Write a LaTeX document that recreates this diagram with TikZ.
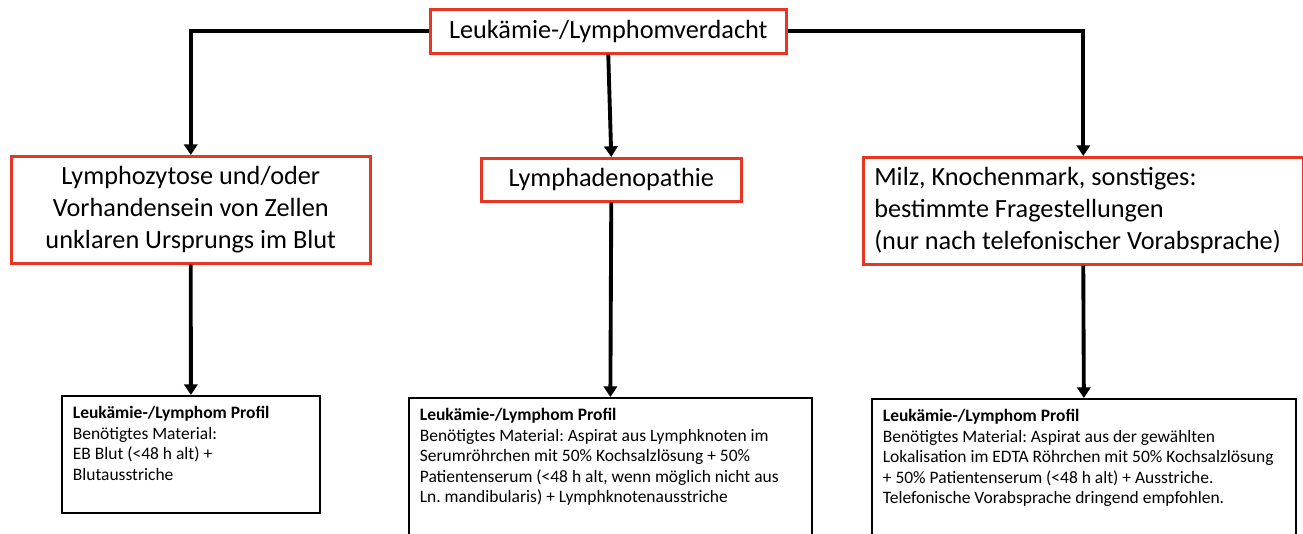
\documentclass[tikz,border=0pt]{standalone}
\usepackage{fontspec}
\setmainfont{Carlito}
\usetikzlibrary{arrows.meta}

\definecolor{boxred}{RGB}{233,53,36}
\def\BigFont{\fontsize{19.7}{24}\selectfont}
\def\SmallFont{\fontsize{13.1}{15.4}\selectfont}
\newcommand\Profil[3]{\parbox[t][#1][t]{#2}{\raggedright\frenchspacing\textbf{Leukämie-/Lymphom Profil}\\#3}}

\begin{document}
\begin{tikzpicture}[x=0.75pt,y=-0.75pt,
  redbox/.style={draw=boxred, line width=1.9pt, inner sep=0pt, font=\BigFont, anchor=north west},
  profilbox/.style={draw=black, line width=1.3pt, inner xsep=8.25pt, inner ysep=8pt, font=\SmallFont, anchor=north west},
  arr/.style={line width=2.9pt, -{Triangle[width=10pt,length=8pt]}},
]
  \useasboundingbox (0,0) rectangle (1303,534);
  \clip (0,0) rectangle (1303,534);

  % --- Verdacht ---
  \node[redbox, minimum width=267pt, minimum height=33pt] (verdacht) at (429,8) {Leukämie-/Lymphomverdacht};

  % --- Befunde ---
  \node[redbox, minimum width=269.25pt, minimum height=80.25pt, align=center] (blut) at (10,155)
    {Lymphozytose und/oder\\Vorhandensein von Zellen\\unklaren Ursprungs im Blut};
  \node[redbox, minimum width=195pt, minimum height=32.25pt] (lk) at (480,157) {Lymphadenopathie};
  \node[redbox, minimum width=330pt, minimum height=80.25pt, align=flush left, text width=313.5pt, inner xsep=8.25pt] (milz) at (862,156)
    {Milz, Knochenmark, sonstiges:\\bestimmte Fragestellungen\\(nur nach telefonischer Vorabsprache)};

  % --- Profile ---
  \node[profilbox] (pblut) at (61,395)
    {\Profil{72pt}{177pt}{Benötigtes Material:\\EB Blut (<48 h alt) +\\Blutausstriche}};
  \node[profilbox] (plk) at (408,397)
    {\Profil{200pt}{285.75pt}{Benötigtes Material: Aspirat aus Lymphknoten im\\Serumröhrchen mit 50\% Kochsalzlösung + 50\%\\Patientenserum (<48 h alt, wenn möglich nicht aus\\Ln. mandibularis) + Lymphknotenausstriche}};
  \node[profilbox] (pmilz) at (871,398)
    {\Profil{200pt}{301.5pt}{Benötigtes Material: Aspirat aus der gewählten\\Lokalisation im EDTA Röhrchen mit 50\% Kochsalzlösung\\+ 50\% Patientenserum (<48 h alt) + Ausstriche.\\Telefonische Vorabsprache dringend empfohlen.}};

  % --- Pfeile ---
  \draw[arr] (verdacht.west) -| (blut.north);
  \draw[arr] (verdacht.south) -- (lk.north);
  \draw[arr] (verdacht.east) -| (milz.north);
  \draw[arr] (blut.south) -- (pblut.north);
  \draw[arr] (lk.south) -- (plk.north);
  \draw[arr] (milz.south) -- (pmilz.north);
\end{tikzpicture}
\end{document}
